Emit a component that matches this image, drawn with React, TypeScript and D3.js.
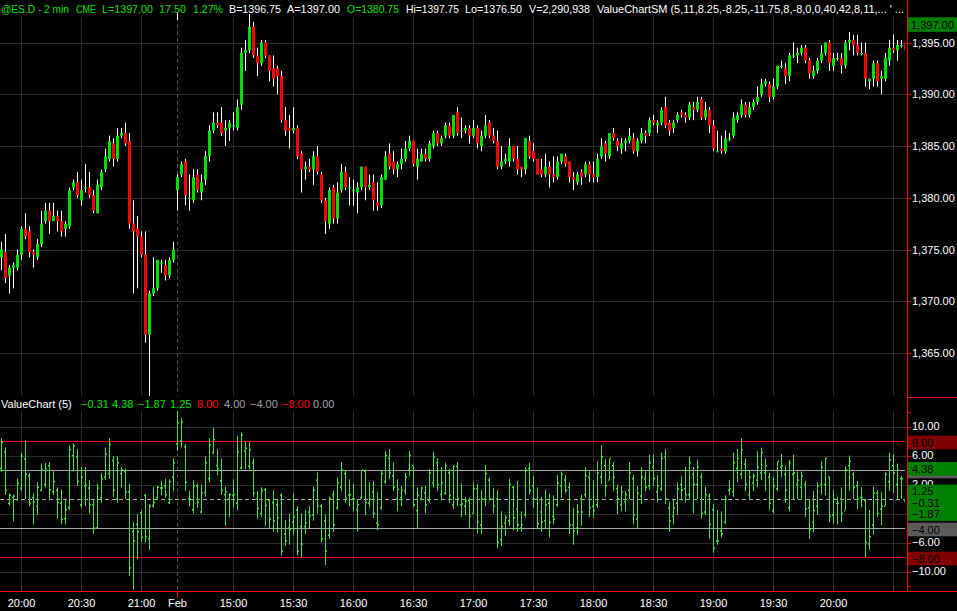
import React from "react";
import * as d3 from "d3";

// ---------- price bars (2 min, @ES.D) ----------
const open = [
1374.25,1374.75,1372.5,1373.25,1373.25,1374.5,1377,1376.75,1374.75,1374.25,
1375.5,1377.75,1378.75,1377.75,1378.25,1377.75,1377,1377.25,1381,1381.5,
1379.75,1381,1381,1380.25,1378.5,1381,1382.75,1383.75,1385.25,1383.75,
1386,1386.25,1385.5,1377.5,1377,1376.25,1374.5,1366.75,1370.75,1371.25,
1373.75,1373.5,1372.5,1374,1380.75,1382.25,1383.5,1380,1379.75,1382.25,
1380.5,1381.75,1384,1386.5,1387.25,1387.25,1386.5,1386.75,1387,1386.75,
1389,1394,1394.25,1396.5,1393.75,1393,1395,1393.75,1392.5,1392.5,
1391.75,1387.5,1386.75,1386.5,1386.75,1384.25,1382.75,1383,1382.75,1384,
1382.25,1379.75,1377.5,1381,1378,1380.75,1382.5,1381,1380.75,1380.5,
1381,1383,1381,1381.5,1379.5,1379.25,1381.75,1384.25,1383.5,1382.75,
1383.25,1383.75,1384.75,1385.5,1383,1383.5,1384.25,1383.75,1385,1386.25,
1385.25,1386,1387,1386,1388.25,1386.5,1386.5,1386.75,1386,1386.75,
1385,1386,1387.25,1386,1385.5,1383,1383.5,1383.5,1385,1383.75,
1383,1382.75,1385.5,1384.5,1383.75,1382.75,1382.25,1383,1382.25,1382,
1383.5,1384,1383.5,1382,1381.5,1382.5,1382.25,1383.25,1382.25,1382,
1384,1385.25,1384,1386.25,1385.5,1384.75,1385.25,1385.5,1385.75,1384.5,
1385.5,1386.25,1386.25,1387.5,1387,1387.25,1388.75,1387.25,1386.75,1387.5,
1388.25,1388,1387.75,1388.75,1388.5,1389.5,1387.75,1388.5,1387,1384.5,
1384.75,1384.5,1385.75,1386,1387.5,1388,1389,1388,1388.75,1389.25,
1390,1391,1391,1389.75,1390.75,1392.75,1392.5,1391.75,1393.75,1393.75,
1394,1394.5,1393.25,1391.75,1392.25,1393.25,1394,1395,1392.75,1393.5,
1393.5,1392.75,1395,1395.25,1394.75,1394,1394,1391.25,1391.5,1393,
1391.5,1391.5,1393.25,1394.5,1394.25,1394.75,1395
];
const high = [
1375.75,1376.5,1373.5,1373.75,1375,1377.25,1378.5,1377.25,1375,1376,
1378.75,1379.5,1379.5,1379.5,1378.75,1378.75,1377.75,1381,1381.75,1382.5,
1381.75,1383.25,1382.5,1380.75,1381.75,1382.75,1384.75,1386,1385.75,1386.75,
1386.75,1387.25,1386.25,1379.75,1378.25,1376.75,1376.75,1371,1374.25,1374,
1374,1374,1374.25,1375.75,1382.25,1383.5,1383.75,1382.25,1382.75,1382.75,
1382.25,1384.5,1387,1388.25,1388.25,1388.75,1387.5,1387.5,1388.25,1389.5,
1394.5,1395.25,1397.75,1397,1394.5,1395.25,1395.25,1393.75,1393.75,1392.75,
1392.25,1388.75,1388,1388.75,1387,1384.5,1383.5,1383.75,1384.5,1385,
1382.5,1380,1381,1381.25,1381.5,1383.25,1383,1382,1381.75,1381.5,
1383,1383,1382.25,1382.25,1381.5,1382.25,1384.5,1385.25,1384.5,1383.5,
1384.75,1385.5,1386,1385.5,1384.75,1384.75,1384.75,1385.5,1386.5,1386.5,
1386,1387.25,1387.25,1388,1388.75,1387.75,1387,1387,1387.5,1387,
1386.5,1388,1387.5,1386.75,1386.5,1385,1384.25,1385.75,1385,1385,
1383,1385.75,1386,1385.25,1383.75,1383.75,1384.25,1383.5,1384,1384,
1384.25,1384.25,1383.5,1382.5,1382.5,1382.75,1383.5,1383.5,1383.5,1384.25,
1385.75,1385.5,1386.25,1386.75,1385.75,1385.75,1385.75,1386.75,1386.25,1385.75,
1386.75,1386.5,1387.75,1388,1387.5,1388.75,1389.75,1387.5,1387.5,1388.25,
1388.5,1388.25,1389.25,1389.25,1389.75,1389.75,1389.25,1388.75,1387.5,1386.5,
1386,1386.5,1386.25,1388.25,1388.25,1389.5,1389.25,1389.25,1389.5,1390.75,
1391.5,1391.5,1391.25,1391.5,1392.75,1393.25,1393,1394,1395,1394.5,
1394.75,1394.75,1393.5,1392.75,1393.5,1394.75,1395,1395.25,1394,1394,
1394,1395.25,1396,1395.75,1395.75,1395,1395,1391.5,1393.25,1393.25,
1392.25,1394,1395.25,1395.75,1395.25,1395.25,1395.25
];
const low = [
1373,1371.75,1370.75,1371.25,1373,1374,1376,1374.25,1373.25,1374,
1375.25,1377.5,1376.5,1377.75,1376.75,1376.25,1376.25,1377,1380.75,1380,
1379.25,1380.5,1380,1378.5,1378.5,1380.75,1382.5,1383.5,1383,1383.5,
1385.75,1385,1377,1370.75,1371.25,1374.25,1366,1360.75,1370.5,1371,
1372.75,1372,1372.25,1373.75,1378.75,1382,1379.25,1378.75,1379.5,1380.5,
1379.75,1381.25,1383.5,1386.25,1386.75,1386,1385,1385.5,1386.5,1386.5,
1388.5,1392.25,1394,1393.5,1391.75,1392.75,1393.5,1391.25,1390.75,1390,
1387.25,1386,1384.75,1386.25,1383.75,1380.5,1381.75,1382.5,1381.25,1382.25,
1379.5,1376.5,1377,1377.5,1377.5,1380.5,1380.75,1379.25,1379.25,1378.5,
1380.75,1379.75,1380.75,1378.75,1378.75,1379,1381.75,1382.75,1382.25,1382,
1382.75,1383.5,1384.5,1383,1381.75,1383.5,1383.5,1383.5,1384.75,1385,
1385,1385.75,1385.75,1385.75,1386,1385.75,1386.25,1385.25,1385.75,1384.75,
1384.5,1385.75,1385.75,1385.25,1382.75,1382.75,1383.25,1383,1383.5,1382.25,
1382,1382.25,1383.75,1383.5,1382.25,1382,1382,1381,1381.5,1381.75,
1383.25,1383,1381.5,1380.75,1381.25,1381.25,1382,1381.5,1381.5,1381.5,
1383.75,1383.5,1383.75,1385.5,1384.5,1384.25,1384.5,1385.25,1384.25,1384,
1385.25,1385.25,1386,1387,1386.25,1387,1386.75,1386,1386.25,1387.25,
1387.75,1387.25,1387.5,1387.5,1388.25,1387.5,1387.5,1386.25,1384.5,1384.5,
1384.25,1384.25,1385.5,1385.75,1387.25,1387.75,1387.75,1387.75,1388.5,1389,
1389.75,1390.75,1389.25,1389.5,1390.5,1392.5,1391,1391.25,1393.5,1393,
1393.75,1393,1391.5,1391.5,1392,1393,1393.75,1392.25,1392.25,1393.25,
1392,1392.5,1394.25,1393.75,1393.75,1393.75,1390.75,1390.5,1390.75,1390.75,
1390,1391.25,1392.75,1394,1393.25,1394.5,1394
];
const close = [
1375,1372.25,1373.25,1373.5,1374.5,1377,1376.25,1374.75,1374.5,1375.5,
1377.5,1378.75,1377.75,1378.25,1377.75,1376.75,1377.5,1380.75,1381.5,1380.25,
1380.75,1381,1380.25,1378.75,1381.25,1382.5,1384,1385.5,1383.75,1386,
1386.25,1385.25,1377.5,1376.75,1376.25,1374.5,1366.75,1370.75,1371.25,1374,
1373.75,1372.5,1374,1375,1382,1383.25,1380.25,1380,1382,1380.75,
1381.5,1384,1386.5,1387.25,1387,1386.25,1386.75,1387.25,1387,1388.75,
1394,1394.25,1396.5,1393.75,1393,1395,1393.75,1392.25,1391.5,1391.75,
1387.5,1386.5,1386.5,1386.75,1384,1382.75,1383,1382.75,1384,1382.5,
1379.75,1377.75,1380.75,1378,1380.5,1382.5,1381,1381,1380.75,1381,
1383,1381,1381.25,1379.75,1379.25,1382,1384,1383,1382.75,1383.25,
1383.75,1384.75,1385.5,1383.25,1383.75,1384.25,1383.75,1385.25,1386.25,1385.25,
1385.75,1387,1386,1388,1386.25,1386.5,1386.75,1386,1386.75,1385.25,
1386,1387,1386,1385.5,1383,1383.5,1383.75,1385,1383.75,1382.75,
1382.75,1385.75,1384,1383.75,1382.25,1382.25,1383,1382.25,1382,1383.5,
1384.25,1383.25,1382,1381.75,1382.25,1382,1383.25,1382.25,1382,1383.75,
1385,1384.25,1386.25,1385.75,1385,1385.25,1385.5,1386,1384.5,1385.5,
1386.25,1386,1387.5,1387.25,1387.25,1388.5,1387,1386.5,1387.25,1388,
1388,1387.75,1389,1388.5,1389.25,1387.75,1388.5,1387,1384.75,1384.5,
1384.5,1385.75,1385.75,1387.75,1388,1389,1388,1388.75,1389.25,1389.75,
1391,1391.25,1389.75,1390.75,1392.75,1392.75,1391.75,1393.75,1393.75,1394,
1394.5,1393.25,1392,1392.25,1393.25,1394,1395,1393,1393.5,1393.5,
1392.75,1395,1395.25,1394.75,1394,1394,1391.5,1391.5,1393,1391.25,
1391.75,1393.5,1394.5,1394.25,1394.75,1394.75,1394.25
];

// ---------- ValueChart (5) bars ----------
const vcOpen = [
4.2,6.5,-0.6,0.2,-0.1,1.5,5.5,3.2,0.2,-1.0,
1.2,2.0,4.6,1.0,1.2,-0.6,-2.7,-1.2,6.0,5.8,
-0.8,1.8,1.5,-0.8,-4.0,0.2,3.0,3.5,5.3,0.0,
3.5,3.8,1.0,-4.5,-3.5,-1.9,0.5,-5.5,-0.9,0.2,
1.5,1.8,-0.5,3.0,7.6,8.0,7.2,0.0,-1.5,1.8,
-1.8,0.9,2.8,6.4,4.6,2.5,0.6,0.0,0.5,-0.6,
4.3,6.6,4.5,5.0,0.0,-2.0,1.3,-0.2,-0.5,-0.8,
0.5,-4.8,-4.0,-3.2,-1.5,-3.8,-3.8,-1.8,-2.2,2.6,
-1.0,-3.0,-5.0,0.6,-1.2,1.6,3.5,0.5,0.0,-1.5,
0.2,3.8,-0.6,1.0,-3.3,-1.2,2.4,5.6,3.2,0.0,
0.2,1.1,4.0,4.6,-1.6,0.0,0.8,-0.2,2.2,5.0,
0.6,0.8,3.6,-0.8,4.5,-0.8,-1.0,-0.2,-2.0,1.4,
-3.6,0.0,2.6,0.0,0.0,-5.6,-3.3,-3.0,1.6,-1.4,
-4.0,-2.2,4.2,1.8,0.0,-1.8,-3.0,-0.6,-2.4,-0.8,
1.8,2.6,1.6,-3.6,-4.0,0.0,0.6,3.0,-1.0,-0.8,
3.0,4.6,2.6,4.6,1.4,-0.8,-0.4,1.2,2.8,-2.8,
0.4,2.8,1.8,4.4,1.0,1.4,5.8,-1.2,-2.4,-0.6,
2.0,1.4,0.6,3.4,2.0,3.0,-1.8,0.4,-1.5,-5.8,
-4.4,-3.2,1.2,1.0,4.2,3.4,4.8,0.6,2.2,2.6,
3.6,3.6,3.0,-1.6,1.4,4.4,3.4,-1.2,3.4,2.0,
1.6,2.0,-1.2,-3.2,-1.0,2.0,2.0,3.0,-2.2,-0.6,
0.0,-1.6,4.6,3.4,1.8,0.2,-0.2,-6.2,-3.6,0.8,
-1.4,-1.0,2.4,4.6,2.0,2.8,-0.31
];
const vcHigh = [
8.4,7.1,0.8,0.6,2.8,6.4,8.1,3.6,0.8,2.3,
4.9,5.0,5.1,3.8,1.6,1.3,0,7.4,7.7,6.9,
4.4,4.4,2.6,0,2.1,3.6,7.1,8.4,5.9,5.9,
4.4,4.2,2.1,-3.2,-2.1,-1.5,0.7,-0.7,1.7,1.8,
2.5,2.8,2.7,5.6,12.2,11.2,7.6,1.1,2.6,2.1,
2.0,5.9,8.4,9.8,6.9,5.6,1.7,0.8,2.7,8.7,
9.2,7.9,7.9,5.6,1.1,1.6,1.5,0,1.2,0,
0.8,-2.9,-2.0,0.8,-1.0,-2.0,-1.5,-1.0,1.7,3.7,
-0.7,-2.2,0.3,1.2,3.0,5.1,4.0,2.7,2.1,0,
4.0,4.1,2.3,2.5,1.0,4.0,6.6,6.9,5.0,2.7,
1.8,3.6,6.6,4.6,1.6,1.7,1.8,4.1,6.5,5.6,
4.4,5.0,4.2,4.6,5.1,2.2,0.3,0.2,2.3,2.1,
1.3,4.7,3.0,1.5,1.2,-1.7,-2.2,2.8,1.8,2.5,
-1.7,4.4,5.0,3.2,1.6,0.3,1.3,0.8,0.5,3.3,
3.8,3.3,2.3,-1.2,-0.7,0.6,4.4,3.8,2.6,5.2,
7.4,5.5,5.6,5.1,2.0,1.8,1.1,5.1,3.3,1.8,
4.4,3.8,6.1,6.1,3.3,6.4,6.9,-0.4,0,2.3,
3.2,4.4,5.9,4.4,5.4,3.6,1.7,0.8,-0.7,-1.5,
-1.7,0.5,2.6,6.4,6.9,8.4,5.6,4.0,3.6,6.6,
7.1,5.6,3.6,3.0,5.2,6.2,4.6,5.4,6.1,3.8,
3.8,2.5,0,1.1,2.3,5.2,5.7,3.1,1.3,0.3,
1.6,4.5,6.0,3.7,2.5,1.6,0,-1.5,1.7,1.2,
1.0,3.7,6.4,6.2,4.9,3.2,4.38
];
const vcLow = [
3.7,0.6,-0.9,-3.1,-0.2,1.1,0,-1.0,-3.5,-2.2,
1.1,1.6,0,0.6,-2.7,-3.5,-3.5,-1.5,3.8,1.8,
-1.2,-1.0,-2.0,-4.8,-4.0,-0.5,2.6,2.8,0.3,-0.5,
1.6,0,-10.6,-12.5,-8.3,-6.0,-6.0,-7.0,-1.2,0,
0.5,0.2,-0.7,1.1,6.6,7.1,1.1,-1.0,-2.0,-1.2,
-2.0,0.3,2.3,6.2,3.3,0.6,-3.7,-2.5,-1.2,-1.5,
4.1,4.1,4.1,0.3,-2.7,-2.5,-3.7,-4.0,-4.5,-4.6,
-7.8,-6.5,-6.3,-5.0,-7.8,-8.0,-4.8,-4.0,-3.0,-2.0,
-6.0,-9.1,-5.5,-4.5,-1.5,1.1,-0.5,-1.0,-1.7,-4.5,
0,-2.2,-1.2,-2.6,-4.3,-1.5,2.1,2.7,1.1,-1.7,
-1.0,0.6,3.2,-1.2,-4.0,-0.2,-2.0,-0.5,1.6,1.1,
-0.2,0.6,-0.5,-1.4,-1.0,-2.5,-2.2,-4.0,-2.0,-4.8,
-4.8,-1.0,-0.2,-2.0,-6.8,-6.5,-5.1,-3.7,-4.3,-4.5,
-4.5,-2.5,0.6,-1.2,-4.0,-4.5,-4.0,-5.3,-3.5,-1.1,
0.2,0.8,-4.8,-6.3,-5.0,-3.7,0.2,-2.5,-2.6,-1.2,
2.1,0.3,2.6,1.1,-2.1,-1.7,-1.7,0,-3.5,-4.0,
-0.7,1.1,1.3,1.8,-0.5,1.1,-0.7,-4.5,-3.5,-2.2,
-0.2,-0.5,0,-2.0,0,-2.7,-2.2,-5.5,-7.4,-6.3,
-5.3,-3.4,0.6,0.3,2.3,2.8,1.1,0,1.1,1.6,
2.6,1.1,-1.5,-2.0,1.1,3.0,-0.5,-1.7,0,0,
0,-2.5,-5.5,-4.6,-2.2,0.6,0.5,-3.2,-3.4,-3.5,
-3.2,-1.5,1.1,0,-1.4,-1.2,-8.0,-7.0,-4.9,-2.5,
-3.6,-1.0,1.1,0.8,0,0,-1.87
];
const vcClose = [
7.8,1.2,0.5,0.4,2.2,5.9,3.4,-0.6,-0.4,1.6,
4.0,4.2,1.3,2.4,-0.5,-2.8,-1.5,6.8,7.3,2.4,
3.0,1.9,-0.8,-4.0,1.5,2.8,6.2,7.5,1.2,5.0,
4.0,1.0,-9.5,-5.8,-4.5,-5.3,-5.2,-1.0,-0.5,1.6,
1.5,0.6,2.4,5.0,10.5,10.6,2.3,0.0,1.8,-0.5,
0.8,5.0,7.5,8.2,4.2,1.2,1.0,0.6,0.6,6.5,
8.8,7.0,6.8,0.8,-1.3,1.2,-0.9,-2.8,-3.0,-2.6,
-7.2,-5.8,-4.2,-2.5,-7.2,-6.2,-3.3,-2.3,1.2,-1.0,
-5.5,-7.2,0.0,-3.6,2.2,4.0,0.2,0.6,0.0,-0.8,
4.0,-0.5,0.0,-2.0,-3.6,3.5,6.0,3.6,1.6,1.3,
1.2,3.0,6.0,-0.8,0.5,1.5,-0.8,3.6,5.8,2.0,
2.2,4.6,0.5,4.5,0.0,-0.7,-0.3,-2.4,1.4,-3.2,
0.0,3.5,0.0,-1.0,-6.0,-3.8,-2.6,2.0,-2.6,-3.6,
-3.6,4.0,1.2,0.0,-3.4,-3.2,-0.8,-3.2,-2.8,2.2,
3.4,1.2,-3.6,-4.4,-1.8,-1.8,3.2,-1.2,-1.6,3.6,
5.8,1.8,5.6,3.0,0.0,1.0,0.6,3.6,-2.2,0.8,
3.0,1.6,5.0,2.8,1.8,5.6,0.0,-3.0,-1.2,1.4,
1.2,0.6,5.0,2.0,4.4,-2.0,0.6,-3.5,-6.8,-5.8,
-4.8,0.0,1.4,5.0,5.6,6.8,2.0,3.0,3.2,4.4,
6.4,4.6,-0.6,1.8,5.2,4.6,1.2,5.0,3.6,2.6,
3.2,-1.4,-4.2,-1.6,1.8,4.4,5.6,-2.4,0.0,-0.6,
-2.0,4.0,5.2,1.6,0.0,0.2,-6.0,-5.2,0.8,-2.0,
-1.0,3.4,5.4,3.6,4.0,2.8,1.25
];

// ---------- axes / labels ----------
const tickBars = [5, 20, 35, 44, 58, 73, 88, 103, 118, 133, 148, 163, 178, 193, 208, 223];
const tickLabels = ["20:00", "20:30", "21:00", "Feb", "15:00", "15:30", "16:00", "16:30", "17:00", "17:30", "18:00", "18:30", "19:00", "19:30", "20:00", ""];
const sessionBreakBar = 44;
const priceTicks = [1395, 1390, 1385, 1380, 1375, 1370, 1365];
const lastPrice = 1397.0;
const vcGridTicks = [10, 6, 2, -2, -6, -10];
const vcAxisTicks = [12, 10, 8, 6, 4, 2, 0, -2, -4, -6, -8, -10, -12];
const vcOuterLevels = [8, -8];
const vcInnerLevels = [4, -4];
const vcZeroLevel = 0;

const headerTexts = [
  "@ES.D - 2 min", "CME", "L=1397.00", "17.50", "1.27%", "B=1396.75", "A=1397.00",
  "O=1380.75", "Hi=1397.75", "Lo=1376.50", "V=2,290,938",
  "ValueChartSM (5,11,8.25,-8.25,-11.75,8,-8,0,0,40,42,8,11,...  ' ...",
];
const headerKinds = ["g", "g", "g", "g", "g", "w", "w", "g", "w", "w", "w", "w"];

// ---------- layout / style constants ----------
const W = 957;
const H = 611;
const GREEN = "#00e000";
const RED = "#ff0000";
const GRID = "#2a2a2a";
const VC_COLOR = "#3ee43e";
const FONT = "'Liberation Sans', Arial, Helvetica, sans-serif";
const FS = 11;
const AXIS_X = 907.5;
const headerX = [1, 76, 102, 159, 193, 229, 287, 347, 406, 465, 529, 597];
const headerW = [68, 20, 51, 27, 30, 52, 53, 52, 53, 57, 61, 307];
const vcHeaderX = [1, 81, 112, 138, 170, 197, 224, 250, 282, 313];

export default function App() {
  const n = open.length;
  const last = n - 1;
  const idx = d3.range(n);
  const x = d3.scaleLinear().domain([0, 1]).range([0, 4]);
  const yP = d3.scaleLinear().domain([1395, 1365]).range([42.5, 353]);
  const yV = d3.scaleLinear().domain([10, -10]).range([426.5, 571.5]);
  const fmtP = d3.format(",.2f");
  const fmtV = d3.format(".2f");
  const cx = (i: number) => x(i) + 1.5;
  const hl = (y: number) => Math.round(y) + 0.5;

  const vcHeaderVals: [string, string][] = [
    ["ValueChart (5)", "#ffffff"],
    [fmtV(vcOpen[last]), GREEN],
    [fmtV(vcHigh[last]), GREEN],
    [fmtV(vcLow[last]), GREEN],
    [fmtV(vcClose[last]), GREEN],
    [fmtV(vcOuterLevels[0]), RED],
    [fmtV(vcInnerLevels[0]), "#a0a0a0"],
    [fmtV(vcInnerLevels[1]), "#a0a0a0"],
    [fmtV(vcOuterLevels[1]), RED],
    [fmtV(vcZeroLevel), "#a0a0a0"],
  ];

  // right-axis marker boxes; the +4 level box sits under the last-high box (label hidden there)
  const vcBoxes: { v: number; bg: string; label: boolean }[] = [
    { v: vcOuterLevels[0], bg: "#800000", label: true },
    { v: vcInnerLevels[0], bg: "#5c5c5c", label: false },
    { v: vcHigh[last], bg: "#008000", label: true },
    { v: vcOuterLevels[1], bg: "#800000", label: true },
    { v: vcInnerLevels[1], bg: "#5c5c5c", label: true },
    { v: vcClose[last], bg: "#008000", label: true },
    { v: vcOpen[last], bg: "#008000", label: true },
    { v: vcLow[last], bg: "#008000", label: true },
  ];

  return (
    <svg
      width={W}
      height={H}
      style={{ position: "absolute", left: 0, top: 0, display: "block", background: "#000" }}
      fontFamily={FONT}
      fontSize={FS}
    >
      <defs>
        <clipPath id="clipP">
          <rect x={0} y={0} width={905} height={396} />
        </clipPath>
        <clipPath id="clipV">
          <rect x={0} y={411} width={905} height={179.5} />
        </clipPath>
        <clipPath id="clipTwo">
          <rect x={907} y={470} width={50} height={15} />
        </clipPath>
      </defs>
      <rect x={0} y={0} width={W} height={H} fill="#000" />

      {/* ---- grids: price panel ---- */}
      {priceTicks.map((p) => (
        <line key={"hg" + p} x1={0} x2={AXIS_X} y1={hl(yP(p))} y2={hl(yP(p))} stroke={GRID} />
      ))}
      {tickBars.map((b) =>
        b === sessionBreakBar ? null : (
          <line key={"vg" + b} x1={cx(b)} x2={cx(b)} y1={17} y2={396} stroke={GRID} />
        )
      )}
      {/* ---- grids: VC panel ---- */}
      {vcGridTicks.map((v) => (
        <line key={"vhg" + v} x1={0} x2={AXIS_X} y1={hl(yV(v))} y2={hl(yV(v))} stroke={GRID} />
      ))}
      {tickBars.map((b) =>
        b === sessionBreakBar ? null : (
          <line key={"vvg" + b} x1={cx(b)} x2={cx(b)} y1={411} y2={591} stroke={GRID} />
        )
      )}
      {/* session break */}
      <line x1={cx(sessionBreakBar)} x2={cx(sessionBreakBar)} y1={17} y2={396} stroke="#505050" strokeDasharray="4,3" />
      <line x1={cx(sessionBreakBar)} x2={cx(sessionBreakBar)} y1={411} y2={591} stroke="#505050" strokeDasharray="4,3" />
      <line x1={cx(sessionBreakBar)} x2={cx(sessionBreakBar)} y1={13} y2={20} stroke="#ffffff" />

      {/* ---- VC levels ---- */}
      {vcOuterLevels.map((v) => (
        <line key={"ol" + v} x1={0} x2={905} y1={hl(yV(v))} y2={hl(yV(v))} stroke={RED} />
      ))}
      {vcInnerLevels.map((v) => (
        <line key={"il" + v} x1={0} x2={905} y1={hl(yV(v))} y2={hl(yV(v))} stroke="#a8a8a8" />
      ))}
      <line x1={0} x2={905} y1={hl(yV(vcZeroLevel))} y2={hl(yV(vcZeroLevel))} stroke="#a8a8a8" strokeDasharray="4,3" />

      {/* ---- candles ---- */}
      <g clipPath="url(#clipP)">
        {idx.map((i) => {
          const o = open[i], c = close[i];
          const up = c >= o;
          const top = yP(Math.max(o, c));
          const h = Math.max(1.2, yP(Math.min(o, c)) - top);
          return (
            <g key={"c" + i}>
              <rect x={x(i) + 1} y={yP(high[i])} width={1} height={yP(low[i]) - yP(high[i])} fill="#ffffff" />
              <rect x={x(i)} y={top} width={3} height={h} fill={up ? GREEN : RED} />
            </g>
          );
        })}
      </g>

      {/* ---- ValueChart bars ---- */}
      <g clipPath="url(#clipV)" fill={VC_COLOR}>
        {idx.map((i) => (
          <g key={"v" + i}>
            <rect x={x(i) + 1} y={yV(vcHigh[i])} width={1} height={Math.max(1, yV(vcLow[i]) - yV(vcHigh[i]))} />
            <rect x={x(i)} y={yV(vcOpen[i]) - 0.75} width={1} height={1.5} />
            <rect x={x(i) + 2} y={yV(vcClose[i]) - 0.75} width={1} height={1.5} />
          </g>
        ))}
      </g>

      {/* ---- header ---- */}
      {headerTexts.map((t, k) => (
        <text key={"h" + k} x={headerX[k]} y={12.5} fill={headerKinds[k] === "g" ? GREEN : "#ffffff"}
          textLength={headerW[k]} lengthAdjust="spacingAndGlyphs">
          {t}
        </text>
      ))}
      {vcHeaderVals.map(([t, col], k) => (
        <text key={"vh" + k} x={vcHeaderX[k]} y={408} fill={col}>
          {t}
        </text>
      ))}

      {/* ---- right axis ---- */}
      <line x1={AXIS_X} x2={AXIS_X} y1={0} y2={592} stroke={RED} />
      <line x1={907} x2={W} y1={397.5} y2={397.5} stroke={RED} />
      {priceTicks.map((p) => (
        <g key={"pt" + p}>
          <line x1={907} x2={911} y1={hl(yP(p))} y2={hl(yP(p))} stroke={RED} />
          <text x={912} y={yP(p) + 4} fill="#ffffff">{fmtP(p)}</text>
        </g>
      ))}
      <rect x={908} y={yP(lastPrice) - 4.5} width={49} height={14.5} fill="#008000" />
      <text x={911} y={yP(lastPrice) + 6.8} fill="#000000">{fmtP(lastPrice)}</text>

      {vcAxisTicks.map((v) => (
        <line key={"vt" + v} x1={907} x2={911} y1={hl(yV(v))} y2={hl(yV(v))} stroke={RED} />
      ))}
      {vcGridTicks.map((v) => (
        <text key={"vl" + v} x={912} y={yV(v) + 3.5} fill="#ffffff"
          clipPath={v === 2 ? "url(#clipTwo)" : undefined}>
          {fmtV(v)}
        </text>
      ))}
      {vcBoxes.map((b, k) => {
        const cy = yV(b.v) + 1.5;
        return (
          <g key={"vb" + k}>
            <rect x={908} y={cy - 6.8} width={49} height={13.6} fill={b.bg} />
            {b.label ? <text x={912} y={cy + 4} fill="#000000">{fmtV(b.v)}</text> : null}
          </g>
        );
      })}

      {/* ---- time axis ---- */}
      <line x1={0} x2={W} y1={591.5} y2={591.5} stroke={RED} />
      {tickBars.map((b, k) => (
        <g key={"tt" + b}>
          {b === sessionBreakBar ? (
            <line x1={cx(b)} x2={cx(b)} y1={591} y2={598} stroke={RED} />
          ) : (
            <line x1={cx(b)} x2={cx(b)} y1={585} y2={591} stroke="#404040" />
          )}
          <text x={cx(b)} y={607} fill="#ffffff" textAnchor="middle">{tickLabels[k]}</text>
        </g>
      ))}
      <line x1={AXIS_X} x2={AXIS_X} y1={585} y2={592} stroke={RED} />
    </svg>
  );
}
